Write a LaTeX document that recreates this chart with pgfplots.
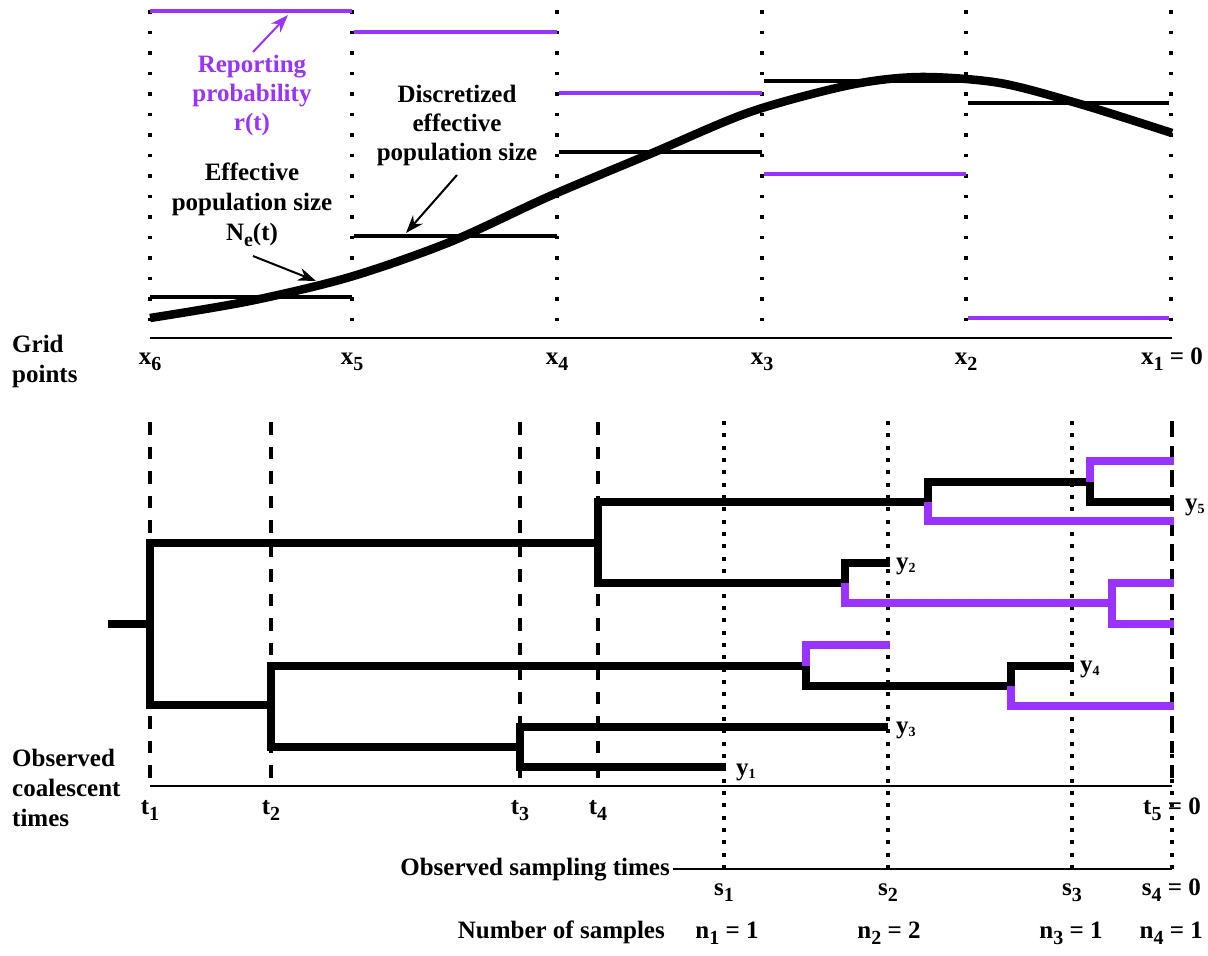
\documentclass[border=0pt]{standalone}
\usepackage{fontspec}
\setmainfont{Liberation Serif}
\usepackage{pgfplots}
\pgfplotsset{compat=1.18}
\usetikzlibrary{arrows.meta}
\definecolor{rp}{RGB}{153,51,255}
\newcommand{\sub}[1]{\raisebox{-6.5pt}{\fontsize{20}{20}\selectfont #1}}
\newcommand{\ysub}[1]{\raisebox{-3pt}{\fontsize{14}{14}\selectfont #1}}
\tikzset{
  lbl/.style={font=\fontsize{25}{30}\selectfont\bfseries, inner sep=0pt},
  gdot/.style={black, line width=3.5pt, dash pattern=on 3.5pt off 17pt},
  sdot/.style={black, line width=4pt, dash pattern=on 4pt off 8.33pt},
  cdash/.style={black, line width=4pt, dash pattern=on 12.5pt off 12pt},
  tree/.style={black, line width=8.5pt, line join=miter},
  ptree/.style={rp, line width=8.5pt, line join=miter},
  stp/.style={line width=3.5pt},
}
\begin{document}
\begin{tikzpicture}
\begin{axis}[
  width=1208pt, height=956pt, scale only axis,
  xmin=0, xmax=1208, ymin=0, ymax=956, y dir=reverse,
  hide axis, clip=false,
]
\path[use as bounding box] (axis cs:0,0) rectangle (axis cs:1208,956);
% ---------------- top panel ----------------
\addplot[gdot] coordinates {(150,10) (150,338)};
\addplot[gdot] coordinates {(352,10) (352,338)};
\addplot[gdot] coordinates {(557,10) (557,338)};
\addplot[gdot] coordinates {(762,10) (762,338)};
\addplot[gdot] coordinates {(966,10) (966,338)};
\addplot[gdot] coordinates {(1171,10) (1171,338)};
\addplot[black, line width=2pt] coordinates {(150,338) (1172,338)};
% reporting probability r(t)
\addplot[rp, stp] coordinates {(150,11) (352,11)};
\addplot[rp, stp] coordinates {(354,32) (557,32)};
\addplot[rp, stp] coordinates {(559,93) (762,93)};
\addplot[rp, stp] coordinates {(764,174) (966,174)};
\addplot[rp, stp] coordinates {(968,318) (1169,318)};
% discretized Ne
\addplot[black, stp] coordinates {(150,297) (352,297)};
\addplot[black, stp] coordinates {(354,236) (557,236)};
\addplot[black, stp] coordinates {(559,152) (762,152)};
\addplot[black, stp] coordinates {(764,81) (966,81)};
\addplot[black, stp] coordinates {(968,103) (1169,103)};
% Ne(t)
\addplot[black, line width=8.5pt, smooth] coordinates {
 (150,318) (250,301) (350,277) (450,242) (550,196) (650,154) (750,112)
 (850,85) (920,77) (1000,83) (1080,104) (1172,133)};
% arrows
\addplot[rp, line width=2pt, -{Stealth[length=18pt,width=13pt]}] coordinates {(253,52) (288,15)};
\addplot[black, line width=2pt, -{Stealth[length=18pt,width=13pt]}] coordinates {(253,256) (316,281)};
\addplot[black, line width=2pt, -{Stealth[length=18pt,width=13pt]}] coordinates {(457,175) (406,233)};
% labels
\node[lbl, rp, anchor=base] at (axis cs:252,72) {Reporting};
\node[lbl, rp, anchor=base] at (axis cs:252,101) {probability};
\node[lbl, rp, anchor=base] at (axis cs:252,130) {r(t)};
\node[lbl, anchor=base] at (axis cs:252,180) {Effective};
\node[lbl, anchor=base] at (axis cs:252,210) {population size};
\node[lbl, anchor=base] at (axis cs:252,240) {N\sub{e}(t)};
\node[lbl, anchor=base] at (axis cs:457,102) {Discretized};
\node[lbl, anchor=base] at (axis cs:457,131) {effective};
\node[lbl, anchor=base] at (axis cs:457,160) {population size};
\node[lbl, anchor=base west] at (axis cs:12,352) {Grid};
\node[lbl, anchor=base west] at (axis cs:12,382) {points};
\node[lbl, anchor=base] at (axis cs:150,364) {x\sub{6}};
\node[lbl, anchor=base] at (axis cs:352,364) {x\sub{5}};
\node[lbl, anchor=base] at (axis cs:557,364) {x\sub{4}};
\node[lbl, anchor=base] at (axis cs:762,364) {x\sub{3}};
\node[lbl, anchor=base] at (axis cs:966,364) {x\sub{2}};
\node[lbl, anchor=base east] at (axis cs:1203,364) {x\sub{1} = 0};
% ---------------- bottom panel ----------------
\addplot[cdash] coordinates {(150,422) (150,786)};
\addplot[cdash] coordinates {(271,422) (271,786)};
\addplot[cdash] coordinates {(520,422) (520,786)};
\addplot[cdash] coordinates {(598,422) (598,786)};
\addplot[cdash] coordinates {(1172,422) (1172,786)};
\addplot[sdot] coordinates {(724,421) (724,869)};
\addplot[sdot] coordinates {(888,421) (888,869)};
\addplot[sdot] coordinates {(1072,421) (1072,869)};
\addplot[sdot] coordinates {(1172,421) (1172,869)};
\addplot[black, line width=2pt] coordinates {(150,786) (1172,786)};
\addplot[black, line width=2pt] coordinates {(673,869) (1172,869)};
% tree, black
\addplot[tree] coordinates {(108,624) (150,624)};
\addplot[tree] coordinates {(598,543) (150,543) (150,705) (271,705)};
\addplot[tree] coordinates {(928,502) (598,502) (598,583) (845,583)};
\addplot[tree] coordinates {(806,666) (271,666) (271,747) (520,747)};
\addplot[tree] coordinates {(888,727) (520,727) (520,767) (726,767)};
\addplot[tree] coordinates {(928,502) (928,482) (1090,482) (1090,502) (1174,502)};
\addplot[tree] coordinates {(845,583) (845,563) (890,563)};
\addplot[tree] coordinates {(806,666) (806,686) (1011,686) (1011,666) (1074,666)};
% tree, unobserved (purple)
\addplot[ptree] coordinates {(928,502) (928,521) (1174,521)};
\addplot[ptree] coordinates {(1090,482) (1090,461) (1174,461)};
\addplot[ptree] coordinates {(845,583) (845,603) (1112,603)};
\addplot[ptree] coordinates {(1174,583) (1112,583) (1112,624) (1174,624)};
\addplot[ptree] coordinates {(806,666) (806,645) (890,645)};
\addplot[ptree] coordinates {(1011,686) (1011,706) (1174,706)};
% tip labels
\node[lbl, anchor=base west] at (axis cs:1185,510) {y\ysub{5}};
\node[lbl, anchor=base west] at (axis cs:896,569) {y\ysub{2}};
\node[lbl, anchor=base west] at (axis cs:1080,672) {y\ysub{4}};
\node[lbl, anchor=base west] at (axis cs:896,733) {y\ysub{3}};
\node[lbl, anchor=base west] at (axis cs:736,775) {y\ysub{1}};
% axis labels
\node[lbl, anchor=base west] at (axis cs:12,766) {Observed};
\node[lbl, anchor=base west] at (axis cs:12,796) {coalescent};
\node[lbl, anchor=base west] at (axis cs:12,826) {times};
\node[lbl, anchor=base] at (axis cs:150,814) {t\sub{1}};
\node[lbl, anchor=base] at (axis cs:271,814) {t\sub{2}};
\node[lbl, anchor=base] at (axis cs:520,814) {t\sub{3}};
\node[lbl, anchor=base] at (axis cs:598,814) {t\sub{4}};
\node[lbl, anchor=base east] at (axis cs:1201,814) {t\sub{5} = 0};
\node[lbl, anchor=base east] at (axis cs:670,875) {Observed sampling times};
\node[lbl, anchor=base] at (axis cs:724,895) {s\sub{1}};
\node[lbl, anchor=base] at (axis cs:888,895) {s\sub{2}};
\node[lbl, anchor=base] at (axis cs:1072,895) {s\sub{3}};
\node[lbl, anchor=base east] at (axis cs:1201,895) {s\sub{4} = 0};
\node[lbl, anchor=base east] at (axis cs:665,938) {Number of samples};
\node[lbl, anchor=base] at (axis cs:727,938) {n\sub{1} = 1};
\node[lbl, anchor=base] at (axis cs:889,938) {n\sub{2} = 2};
\node[lbl, anchor=base] at (axis cs:1071,938) {n\sub{3} = 1};
\node[lbl, anchor=base east] at (axis cs:1203,938) {n\sub{4} = 1};
\end{axis}
\end{tikzpicture}
\end{document}
